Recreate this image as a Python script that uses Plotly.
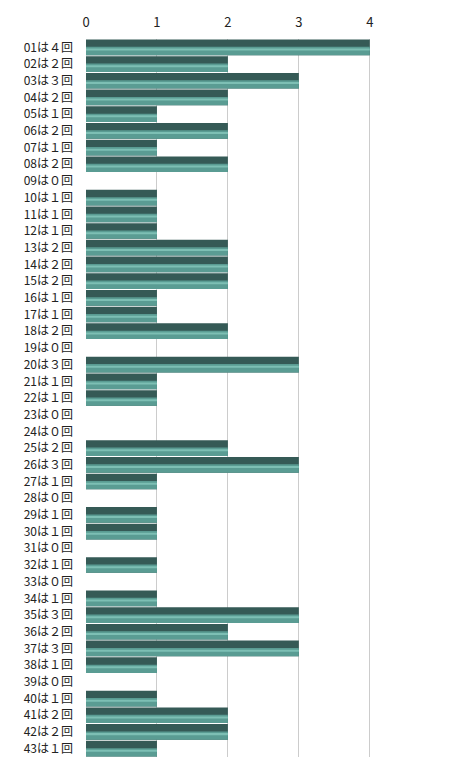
import plotly.graph_objects as go

numbers = [f"{i:02d}" for i in range(1, 44)]
counts = [4, 2, 3, 2, 1, 2, 1, 2, 0, 1, 1, 1, 2, 2, 2, 1, 1, 2, 0, 3,
          1, 1, 0, 0, 2, 3, 1, 0, 1, 1, 0, 1, 0, 1, 3, 2, 3, 1, 0, 1,
          2, 2, 1]
tick_values = [0, 1, 2, 3, 4]

FW = str.maketrans("0123456789", "０１２３４５６７８９")
labels = [f"{n}は{str(c).translate(FW)}回" for n, c in zip(numbers, counts)]

fig = go.Figure()
fig.add_trace(go.Bar(y=labels, x=counts, orientation="h",
                     marker=dict(color="#355a56", line=dict(width=0)),
                     width=0.94, offset=-0.47, hoverinfo="skip"))
fig.add_trace(go.Bar(y=labels, x=counts, orientation="h",
                     marker=dict(color="#5a9c93", line=dict(width=0)),
                     width=0.5, offset=-0.03, hoverinfo="skip"))
fig.add_trace(go.Bar(y=labels, x=counts, orientation="h",
                     marker=dict(color="#7dbfb4", line=dict(width=0)),
                     width=0.12, offset=0.07, hoverinfo="skip"))

fig.update_layout(
    width=474, height=778,
    margin=dict(l=86, r=90, t=30, b=21),
    barmode="overlay",
    showlegend=False,
    plot_bgcolor="white", paper_bgcolor="white",
    font=dict(family="Noto Sans CJK JP", size=12, color="#222"),
    xaxis=dict(side="top", range=[0, 4.2], tickvals=tick_values,
               showgrid=True, gridcolor="#cccccc", gridwidth=1,
               zeroline=False, showline=False, ticklabelstandoff=8,
               tickfont=dict(size=13, color="#222")),
    yaxis=dict(autorange="reversed", showgrid=False, showline=False,
               ticks="", ticklabelstandoff=12, tickfont=dict(size=12, color="#222")),
)
fig.write_html("out.html")
